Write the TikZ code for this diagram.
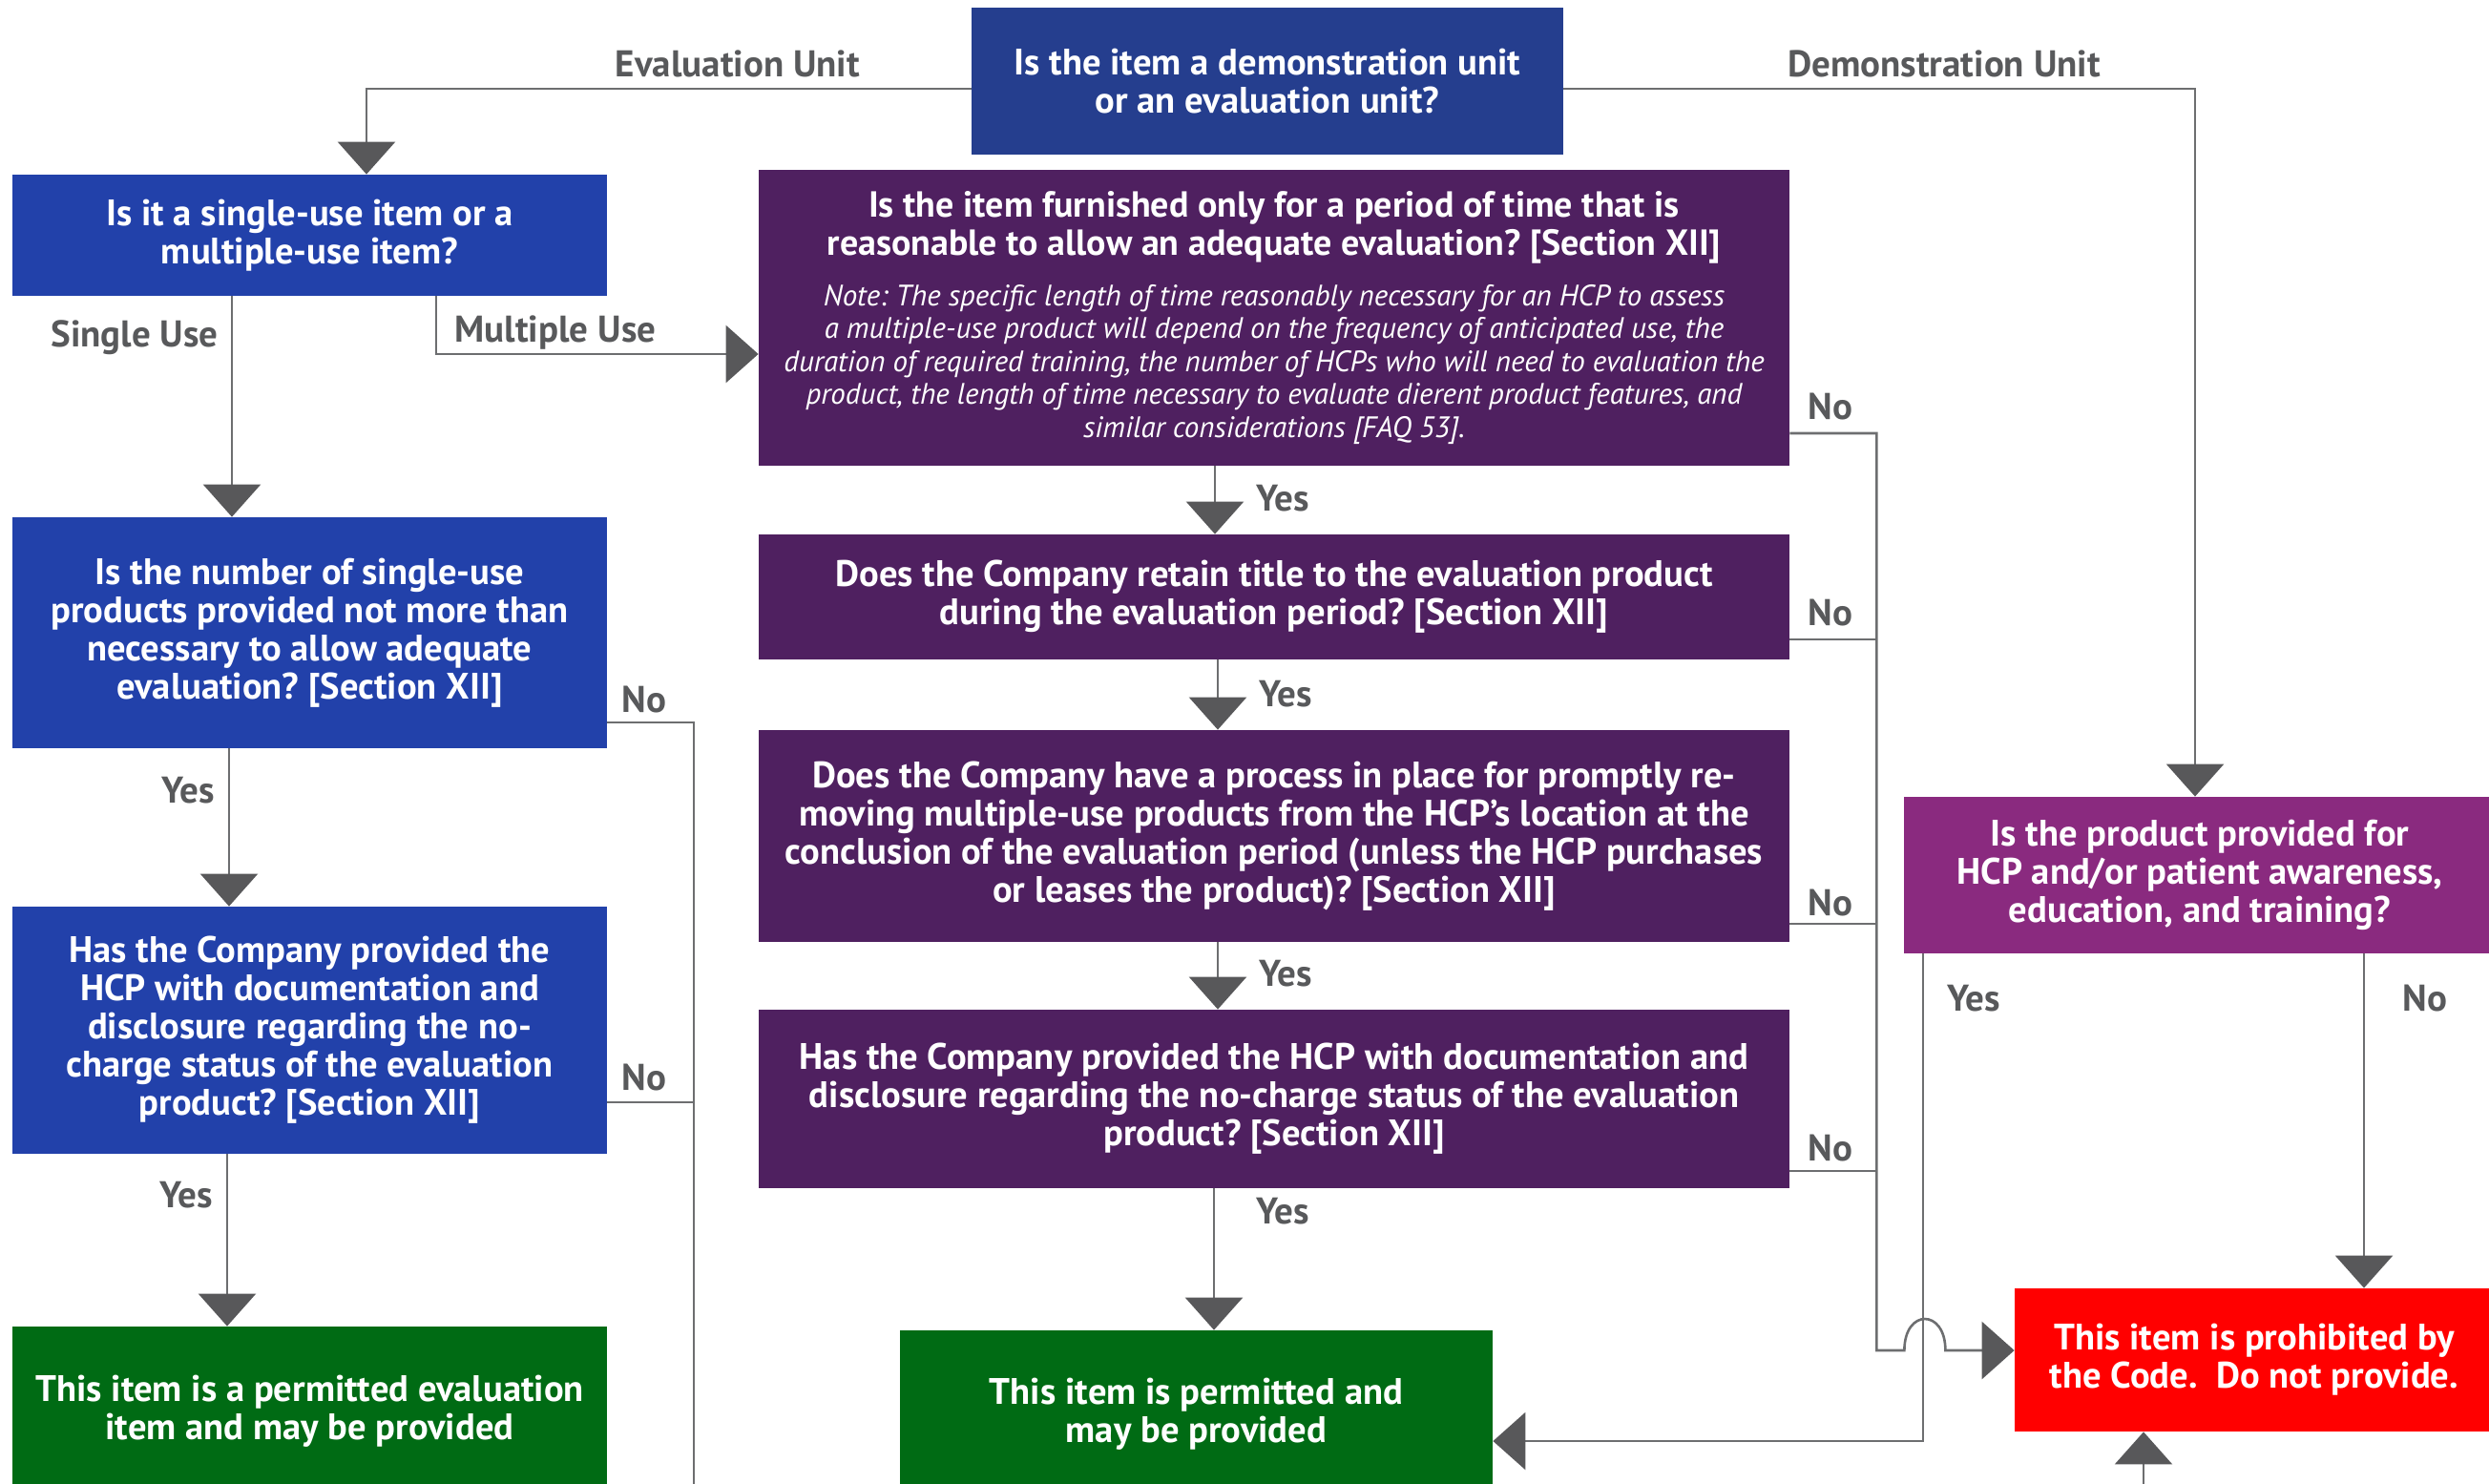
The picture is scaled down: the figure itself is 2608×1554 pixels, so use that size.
\documentclass[tikz,border=0pt]{standalone}
\usepackage{fontspec}
\setmainfont{PT Sans}
\usetikzlibrary{arrows.meta,calc}

\definecolor{qblue}{RGB}{37,62,142}
\definecolor{boxblue}{RGB}{34,65,170}
\definecolor{boxpurple}{RGB}{79,32,96}
\definecolor{boxmagenta}{RGB}{138,42,127}
\definecolor{boxgreen}{RGB}{0,107,20}
\definecolor{boxred}{RGB}{255,0,0}
\definecolor{linegray}{RGB}{109,110,112}
\definecolor{tipgray}{RGB}{88,88,90}
\definecolor{labelgray}{RGB}{88,89,91}

\frenchspacing
\begin{document}
\begin{tikzpicture}[x=0.5pt,y=-0.5pt,
  box/.style={fill=#1, text=white, align=center, inner sep=0pt,
    font=\bfseries\fontsize{19.3}{20}\selectfont},
  conn/.style={draw=linegray, line width=1.3pt,
    -{Triangle[width=30pt,length=17pt,color=tipgray]}},
  wire/.style={draw=linegray, line width=1.3pt},
  lbl/.style={text=labelgray, inner sep=0pt,
    font=\bfseries\fontsize{19.5}{20}\selectfont}]

\useasboundingbox (0,0) rectangle (2608,1554);
\clip (0,0) rectangle (2608,1554);

% ---- question and outcome boxes ----
\node[box=qblue, minimum width=310pt, minimum height=77pt] (Q0) at (1328,85)
  {Is the item a demonstration unit\\or an evaluation unit?};

\node[box=boxblue, minimum width=311.5pt, minimum height=63.5pt] (A) at (324.5,246.5)
  {Is it a single-use item or a\\multiple-use item?};
\node[box=boxblue, minimum width=311.5pt, minimum height=121pt] (B) at (324.5,663)
  {Is the number of single-use\\products provided not more than\\necessary to allow adequate\\evaluation? [Section XII]};
\node[box=boxblue, minimum width=311.5pt, minimum height=129.5pt] (C) at (324.5,1079.5)
  {Has the Company provided the\\HCP with documentation and\\disclosure regarding the no-\\charge status of the evaluation\\product? [Section XII]};
\node[box=boxgreen, minimum width=311.5pt, minimum height=89pt] (D) at (324.5,1479)
  {This item is a permitted evaluation\\item and may be provided};

\node[box=boxpurple, align=flush center, minimum width=540pt, minimum height=155pt,
      text width=540pt] (P1) at (1335,333)
  {{\fontsize{19}{20}\selectfont Is the item furnished only for a period of time that is\\
    reasonable to allow an adequate evaluation? [Section XII]\par}
   \vspace{9.25pt}
   {\mdseries\itshape\fontsize{15.5}{17.25}\selectfont
    \spaceskip=0.26em\relax
    Note: The specific length of time reasonably necessary for an HCP to assess\\
    a multiple-use product will depend on the frequency of anticipated use, the\\
    duration of required training, the number of HCPs who will need to evaluation the\\
    product, the length of time necessary to evaluate dierent product features, and\\
    similar considerations [FAQ 53].\par}};
\node[box=boxpurple, minimum width=540pt, minimum height=65.5pt] (P2) at (1335,625.5)
  {Does the Company retain title to the evaluation product\\during the evaluation period? [Section XII]};
\node[box=boxpurple, minimum width=540pt, minimum height=111pt] (P3) at (1335,876)
  {Does the Company have a process in place for promptly re-\\moving multiple-use products from the HCP’s location at the\\conclusion of the evaluation period (unless the HCP purchases\\or leases the product)? [Section XII]};
\node[box=boxpurple, minimum width=540pt, minimum height=93.5pt] (P4) at (1335,1151.5)
  {Has the Company provided the HCP with documentation and\\disclosure regarding the no-charge status of the evaluation\\product? [Section XII]};
\node[box=boxgreen, minimum width=310.5pt, minimum height=88pt] (E) at (1253.5,1482)
  {This item is permitted and\\may be provided};

\node[box=boxmagenta, minimum width=310pt, minimum height=82pt] (F) at (2305,917)
  {Is the product provided for\\HCP and/or patient awareness,\\education, and training?};
\node[box=boxred, minimum width=251pt, minimum height=75pt] (G) at (2362,1425)
  {This item is prohibited by\\the Code.~ Do not provide.};

% ---- connectors ----
\draw[conn] ($(Q0.west)+(0,8)$) -| ($(A.north)+(59.5,0)$);
\draw[conn] ($(Q0.east)+(0,8)$) -| ($(F.north)+(-5,0)$);

\draw[conn] ($(A.south)+(-81.5,0)$) -- ($(B.north)+(-81.5,0)$);
\draw[conn] ($(A.south)+(132.5,0)$) |- ($(P1.west)+(0,38)$);
\draw[conn] ($(B.south)+(-84.5,0)$) -- ($(C.north)+(-84.5,0)$);
\draw[conn] ($(C.south)+(-86.5,0)$) -- ($(D.north)+(-86.5,0)$);

% left "No" bus running off the lower edge
\coordinate (leftbus) at (727,1580);
\coordinate (bno) at ($(B.east)+(0,94)$);
\coordinate (cno) at ($(C.east)+(0,75.5)$);
\draw[wire] (bno) -| (leftbus);
\draw[wire] (cno) -- (cno -| leftbus);

% middle chain
\draw[conn] ($(P1.south)+(-62,0)$) -- ($(P2.north)+(-62,0)$);
\draw[conn] ($(P2.south)+(-59,0)$) -- ($(P3.north)+(-59,0)$);
\draw[conn] ($(P3.south)+(-59,0)$) -- ($(P4.north)+(-59,0)$);
\draw[conn] ($(P4.south)+(-63,0)$) -- ($(E.north)+(18.5,0)$);

% right "No" bus with a hop over the "Yes" line
\coordinate (n1) at ($(P1.east)+(0,121)$);
\coordinate (n2) at ($(P2.east)+(0,44.5)$);
\coordinate (n3) at ($(P3.east)+(0,92)$);
\coordinate (n4) at ($(P4.east)+(0,75.5)$);
\coordinate (gin) at ($(G.west)+(0,-10)$);
\coordinate (busturn) at ($(n1 |- gin)+(91,0)$);
\coordinate (hopa) at ($(busturn)+(29,0)$);
\coordinate (hopb) at ($(busturn)+(72,0)$);
\draw[conn] (n1) -| (busturn) -- (hopa)
  .. controls ($(hopa)+(0,-44)$) and ($(hopb)+(0,-44)$) .. (hopb) -- (gin);
\draw[wire] (n2) -- (n2 -| busturn);
\draw[wire] (n3) -- (n3 -| busturn);
\draw[wire] (n4) -- (n4 -| busturn);

\draw[conn] ($(F.south)+(-290,0)$) |- ($(E.east)+(0,28)$);
\draw[conn] ($(F.south)+(172,0)$) -- ($(G.north)+(115,0)$);

\coordinate (gbelow) at (2246,1580);
\draw[conn] (gbelow) -- ($(G.south)+(-116,0)$);

% ---- connector labels ----
\node[lbl] (lEval) at (773,67) {Evaluation Unit};
\node[lbl] (lDemo) at (2037,67) {Demonstration Unit};
\node[lbl] (lSingle) at (141,354) {Single Use};
\node[lbl] (lMulti) at (582,349) {Multiple Use};
\node[lbl] (lYesB) at (197,828) {Yes};
\node[lbl] (lYesC) at (195,1252) {Yes};
\node[lbl] (lNoB) at (675,733) {No};
\node[lbl] (lNoC) at (675,1129) {No};
\node[lbl] (lYes1) at (1344,522) {Yes};
\node[lbl] (lYes2) at (1347,727) {Yes};
\node[lbl] (lYes3) at (1347,1020) {Yes};
\node[lbl] (lYes4) at (1344,1269) {Yes};
\node[lbl] (lNo1) at (1918,426) {No};
\node[lbl] (lNo2) at (1918,642) {No};
\node[lbl] (lNo3) at (1918,946) {No};
\node[lbl] (lNo4) at (1918,1203) {No};
\node[lbl] (lYesF) at (2068,1046) {Yes};
\node[lbl] (lNoF) at (2541,1046) {No};
\end{tikzpicture}
\end{document}
